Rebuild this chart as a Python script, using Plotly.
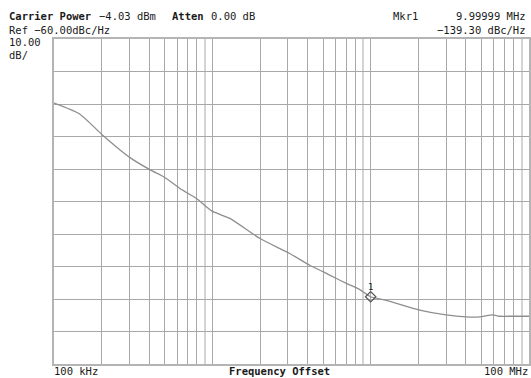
import plotly.graph_objects as go

# Phase-noise trace: offset frequency (Hz) and level (dBc/Hz)
offset_hz = [1.0e5, 1.445e5, 2.03e5, 3.02e5, 4.03e5, 5.01e5, 6.24e5, 7.95e5,
             9.9e5, 1.29e6, 2.0e6, 3.08e6, 4.12e6, 5.0e6, 6.08e6, 7.03e6,
             8.53e6, 1.0e7, 1.256e7, 2.04e7, 3.0e7, 4.0e7, 4.9e7, 5.9e7,
             6.5e7, 7.9e7, 1.0e8]
level_dbc = [-79.7, -83.0, -89.6, -96.5, -100.2, -102.6, -106.0, -109.1,
             -112.9, -115.2, -121.4, -126.0, -129.6, -131.6, -133.7, -135.2,
             -137.1, -139.3, -140.4, -143.4, -144.9, -145.5, -145.5, -144.9,
             -145.3, -145.3, -145.3]

# Marker 1
marker_freq = [1.0e7]
marker_level = [-139.30]

# Display scale
ref_level = -60.0
db_per_div = 10.0
n_div = 10
start_hz, stop_hz = 1e5, 1e8

# Window geometry (px)
W, H = 531, 378
L, R, T, B = 54, 1.5, 38.5, 14
pw, ph = W - L - R, H - T - B

FONT = "DejaVu Sans Mono"
FS = 10.5
INK = "#1a1a1a"


def px(x):
    return (x - L) / pw


def py(y):
    return (H - B - y) / ph


decades = [1e5, 1e6, 1e7]
major_x = [k * d for d in decades for k in range(1, 9)] + [1e8]
minor_x = [9 * d for d in decades]
bottom = ref_level - db_per_div * n_div
grid_y = [ref_level - db_per_div * i for i in range(1, n_div)]

fig = go.Figure()
fig.add_trace(go.Scatter(
    x=offset_hz, y=level_dbc, mode="lines",
    line=dict(color="#8e8e8e", width=1.3, shape="spline", smoothing=0.6),
    hoverinfo="skip"))
fig.add_trace(go.Scatter(
    x=marker_freq, y=marker_level, mode="markers",
    marker=dict(symbol="diamond-open", size=8, color="#555555",
                line=dict(width=1.2)),
    hoverinfo="skip"))

ann = []


def text(x, y, s, anchor="left", bold=False, size=FS):
    ann.append(dict(xref="paper", yref="paper", x=px(x), y=py(y),
                    text=f"<b>{s}</b>" if bold else s, showarrow=False,
                    xanchor=anchor, yanchor="middle", borderpad=0,
                    font=dict(family=FONT, size=size, color=INK)))


text(8, 15, "Carrier Power", bold=True)
text(98, 15, "\u22124.03 dBm")
text(171, 15, "Atten", bold=True)
text(210, 15, "0.00 dB")
text(392, 15, "Mkr1")
text(527, 15, "9.99999 MHz", anchor="right")
text(8, 29, "Ref \u221260.00dBc/Hz")
text(527, 29, "\u2212139.30 dBc/Hz", anchor="right")
text(8, 42, "10.00")
text(8, 55, "dB/")
text(53, 371, "100 kHz")
text(280, 371, "Frequency Offset", anchor="center", bold=True)
text(530, 371, "100 MHz", anchor="right")

ann.append(dict(x=7.0, y=marker_level[0], xref="x", yref="y", text="1",
                showarrow=False, yshift=10,
                font=dict(family=FONT, size=9, color=INK)))

fig.update_layout(
    width=W, height=H,
    margin=dict(l=L, r=R, t=T, b=B, pad=0),
    paper_bgcolor="white", plot_bgcolor="white",
    showlegend=False,
    annotations=ann,
    xaxis=dict(type="log", range=[5, 8], tickmode="array", tickvals=major_x,
               showticklabels=False, ticks="", showgrid=True,
               gridcolor="#a8a8a8", gridwidth=1,
               minor=dict(tickmode="array", tickvals=minor_x, showgrid=True,
                          gridcolor="#d4d4d4", gridwidth=2, ticks=""),
               showline=True, mirror=True, linecolor="#b4b4b4", linewidth=1.5,
               zeroline=False, fixedrange=True),
    yaxis=dict(range=[bottom, ref_level], tickmode="array", tickvals=grid_y,
               showticklabels=False, ticks="", showgrid=True,
               gridcolor="#a8a8a8", gridwidth=1,
               showline=True, mirror=True, linecolor="#b4b4b4", linewidth=1.5,
               zeroline=False, fixedrange=True),
)

fig.write_html("out.html", config={"displayModeBar": False})
